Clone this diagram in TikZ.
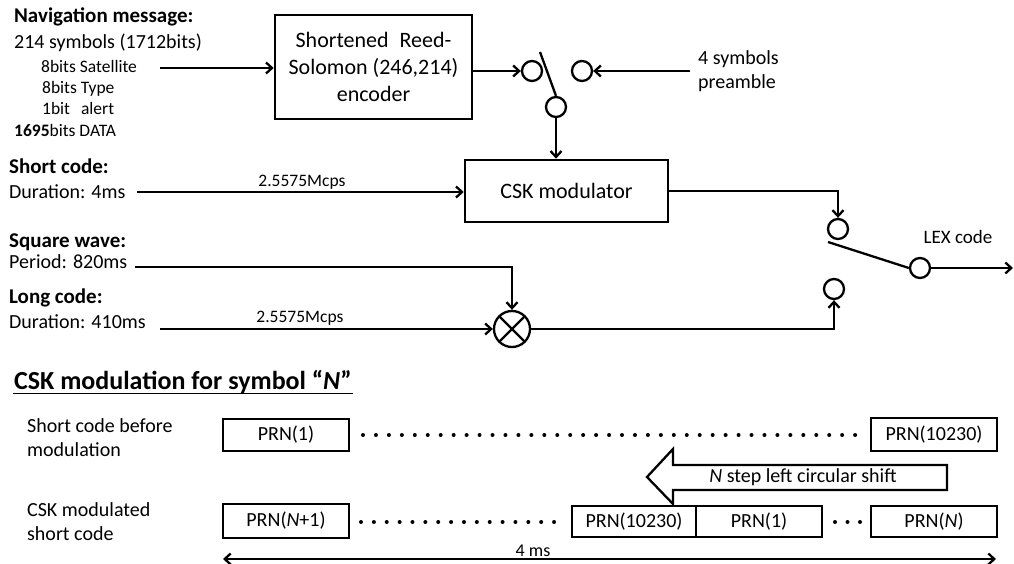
\documentclass[tikz,border=0pt]{standalone}
\usepackage{fontspec}
\setmainfont{Carlito}
\usetikzlibrary{arrows.meta}
\begin{document}
\begin{tikzpicture}[x=1pt,y=-1pt,line width=2.3pt,
  >={Straight Barb[length=6pt,width=11pt]},
  lbl/.style={inner sep=0pt,anchor=base west,font=\fontsize{20}{24}\selectfont},
  lblb/.style={inner sep=0pt,anchor=base west,font=\fontsize{21}{25}\selectfont\bfseries},
  sml/.style={inner sep=0pt,anchor=base west,font=\fontsize{17.5}{21}\selectfont},
  rate/.style={inner sep=0pt,anchor=base,font=\fontsize{17.5}{21}\selectfont},
  blk/.style={draw,line width=2.6pt,inner sep=0pt,align=center,font=\fontsize{22}{27}\selectfont},
  sw/.style={draw,circle,minimum size=20pt,inner sep=0pt,line width=2.3pt},
  prn/.style={draw,line width=2.6pt,inner sep=0pt,minimum width=126pt,font=\fontsize{20}{24}\selectfont}]
\useasboundingbox (0,0) rectangle (1014,564);

% ---------- upper block diagram ----------
\node[lblb] (nav) at (13,23) {Navigation message:};
\node[lbl] (sym) at (13,49) {214 symbols (1712bits)};
\node[sml] (s1) at (40,73) {8bits Satellite};
\node[sml] (s2) at (41,94) {8bits Type};
\node[sml] (s3) at (41,115) {1bit\hspace{11pt}alert};
\node[sml] (s4) at (13,137) {\textbf{1695}bits DATA};

\node[blk,minimum width=197pt,minimum height=104pt] (rs) at (373.5,67)
  {Shortened\hspace{6pt} Reed-\\Solomon (246,214)\\encoder};
\coordinate (navin) at (160,68);
\draw[->] (navin) -- (rs.west |- navin);

\node[sw] (c1) at (532,71) {};
\node[sw] (c2) at (582,71) {};
\node[sw] (c3) at (556,107) {};
\draw[->] (rs.east |- c1) -- (c1);
\coordinate (prein) at (690,71);
\draw[->] (prein) -- (c2);
\node[lbl] (pre1) at (697,65) {4 symbols};
\node[lbl] (pre2) at (697,89) {preamble};
\coordinate (swa) at (540,52);
\draw (swa) -- (c3.north);

\node[blk,minimum width=203pt,minimum height=62pt] (csk) at (566.5,191) {CSK modulator};
\draw[->] (c3.south) -- (c3.south |- csk.north);

\node[lblb] (sc) at (8,174) {Short code:};
\node[lbl] (scd) at (8,199) {Duration: 4ms};
\coordinate (scin) at (137,192);
\draw[->] (scin) -- (csk.west |- scin);
\node[rate] (r1) at (302,186) {2.5575Mcps};

\node[lblb] (sqw) at (8,247) {Square wave:};
\node[lbl] (sqp) at (8,268) {Period: 820ms};
\node[lblb] (lc) at (8,303) {Long code:};
\node[lbl] (lcd) at (8,328) {Duration: 410ms};
\node[rate] (r2) at (300,322) {2.5575Mcps};

\node[draw,circle,minimum size=36pt,inner sep=0pt,line width=2.3pt,
  path picture={\draw[line width=2.3pt] (path picture bounding box.north west) -- (path picture bounding box.south east)
  (path picture bounding box.south west) -- (path picture bounding box.north east);}] (mul) at (512,329) {};
\coordinate (sqin) at (135,267);
\draw[->] (sqin) -- (mul.north |- sqin) -- (mul.north);
\coordinate (lcin) at (160,329);
\draw[->] (lcin) -- (mul.west);

\node[sw] (c4) at (838,229) {};
\node[sw] (c5) at (834,289) {};
\node[sw] (c6) at (920,268) {};
\draw[->] (csk.east) -- (c4.north |- csk.east) -- (c4.north);
\draw[->] (mul.east) -- (c5.south |- mul.east) -- (c5.south);
\coordinate (swb) at (828,242);
\draw (swb) -- (c6.west);
\coordinate (lexout) at (1013,268);
\draw[->] (c6.east) -- (lexout);
\node[inner sep=0pt,anchor=base,font=\fontsize{19}{23}\selectfont] (lex) at (958,243) {LEX code};

% ---------- lower part: CSK modulation ----------
\node[inner sep=0pt,anchor=base west,font=\fontsize{26}{31}\selectfont\bfseries] (title) at (13,389)
  {CSK modulation for symbol “\textit{N}”};
\draw[line width=1.8pt] ([yshift=-4.5pt]title.base west) -- ([yshift=-4.5pt]title.base east);

\node[lbl] (l1) at (26,432) {Short code before};
\node[lbl] (l2) at (26,456) {modulation};
\node[lbl] (l3) at (26,516) {CSK modulated};
\node[lbl] (l4) at (26,540) {short code};

\node[prn,minimum height=32pt] (b1) at (286,435) {PRN(1)};
\node[prn,minimum height=33pt] (b2) at (934,434.5) {PRN(10230)};
\node[prn,minimum height=34pt] (b3) at (286,521) {PRN(\textit{N}+1)};
\node[prn,minimum height=31pt,minimum width=124pt] (b4) at (634,521.5) {PRN(10230)};
\node[prn,minimum height=31pt] (b5) at (759,521.5) {PRN(1)};
\node[prn,minimum height=31pt] (b6) at (934,521.5) {PRN(\textit{N})};

\foreach \i in {0,...,38} \fill (363+\i*12.95,435) circle (2pt);
\foreach \i in {0,...,15} \fill (361+\i*12.87,522) circle (2pt);
\foreach \i in {0,1,2} \fill (835+\i*12.5,522) circle (2pt);

\draw[line width=2.3pt,line join=miter] (647,477) -- (673,449) -- (673,465) -- (947,465) -- (947,490) -- (673,490) -- (673,504) -- cycle;
\node[inner sep=0pt,font=\fontsize{20}{24}\selectfont] (shift) at (803,477.5) {\textit{N} step left circular shift};

\coordinate (msl) at (223,559);
\coordinate (msr) at (996,559);
\draw[<->] (msl) -- (msr);
\node[inner sep=0pt,anchor=base,font=\fontsize{18}{21}\selectfont] (ms) at (533,556) {4 ms};
\end{tikzpicture}
\end{document}
